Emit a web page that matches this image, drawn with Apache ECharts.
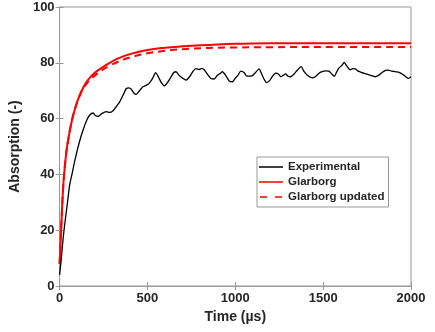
<!DOCTYPE html>
<html>
<head>
<meta charset="utf-8">
<script src="https://cdn.jsdelivr.net/npm/echarts@6/dist/echarts.min.js"></script>
<style>html,body{margin:0;padding:0;background:#fff;}#c{width:435px;height:332px;}</style>
</head>
<body>
<div id="c"></div>
<script>
const seriesNames = ['Experimental', 'Glarborg', 'Glarborg updated'];
const xTicks = [0, 500, 1000, 1500, 2000];
const yTicks = [0, 20, 40, 60, 80, 100];

const experimental = [[0,4],[10,10],[20,17],[30,22.5],[45,30],[58,36.5],[72,40.5],[87,45],[110,51],[134,56],[155,59.5],[172,61.3],[191,62],[205,61],[219,60.8],[240,61.8],[266,62.5],[285,62.2],[304,62.8],[325,64.5],[342,66],[362,68.5],[380,70.8],[395,71],[408,70.5],[425,69],[436,68.7],[455,70],[474,71.4],[495,72],[512,72.8],[530,74.5],[546,76.5],[558,75.5],[568,74.2],[583,72.5],[597,71.7],[615,73],[635,75],[650,76.5],[663,76.8],[680,75.5],[700,74.5],[720,73.8],[740,75],[760,77],[776,77.9],[795,77.6],[810,78],[823,77.5],[840,76],[861,74.4],[880,74.2],[899,75.6],[915,76.2],[927,76.8],[945,75.5],[965,73.5],[984,73.2],[1000,74.5],[1015,75.5],[1031,77],[1050,76.5],[1065,75.2],[1078,75.2],[1095,75.3],[1115,76.5],[1135,77.8],[1150,76],[1165,74],[1178,72.9],[1195,73.6],[1210,75],[1229,76.3],[1245,76],[1258,75],[1272,75.5],[1286,76],[1300,75.2],[1314,75],[1335,76],[1355,77.5],[1375,78.6],[1390,77],[1410,75.5],[1437,74.6],[1455,75],[1475,76.2],[1494,76.8],[1513,77.1],[1532,77],[1545,76.3],[1564,75.1],[1575,76.5],[1588,78],[1605,79],[1620,80.1],[1635,78.8],[1654,77.5],[1668,77.9],[1683,77.8],[1700,77],[1720,76.5],[1745,76],[1770,75.5],[1796,75],[1815,75.5],[1835,76.5],[1855,77.3],[1871,77.4],[1890,77],[1910,76.8],[1928,76.7],[1950,76],[1970,75],[1985,74.4],[2000,75]];

const glarborg = [[0,8],[5,15],[10,22],[20,35],[30,43],[40,48.7],[50,52.8],[60,56.3],[70,59.3],[80,61.8],[100,66],[120,69.2],[140,71.8],[160,73.7],[180,75.2],[200,76.4],[240,78.2],[280,79.8],[330,81.5],[400,83.1],[500,84.6],[600,85.4],[700,85.9],[800,86.3],[900,86.6],[1000,86.8],[1200,87],[1500,87],[2000,87]];

const glarborgUpdated = [[0,8],[5,15],[10,22],[20,35],[30,43],[40,48.7],[50,52.8],[60,56.3],[70,59.3],[80,61.8],[100,65.9],[120,69],[140,71.4],[160,73],[180,74.3],[200,75.4],[240,77.3],[280,78.8],[330,80.3],[400,81.9],[500,83.4],[600,84.3],[700,84.9],[800,85.2],[900,85.4],[1000,85.5],[1200,85.6],[1500,85.7],[2000,85.7]];

const FONT = '"Liberation Sans", Arial, Helvetica, sans-serif';
const AX = '#999999';
const TXT = '#262626';
const SOLID_ICON = 'path://M0,0h0.01v0.01h-0.01z M0,4.2h24v1.6h-24z M0,9.99h0.01v0.01h-0.01z';
const DASH_ICON = 'path://M0,0h0.01v0.01h-0.01z M1,4.2h7v1.6h-7z M16,4.2h7v1.6h-7z M23.99,9.99h0.01v0.01h-0.01z';

const chart = echarts.init(document.getElementById('c'), null, {renderer: 'canvas'});
const gridPos = {left: 58, top: 7, right: 24, bottom: 46};

chart.setOption({
  animation: false,
  backgroundColor: '#ffffff',
  grid: Object.assign({show: true, borderColor: AX, borderWidth: 1, backgroundColor: '#fff'}, gridPos),
  legend: {
    data: [
      {name: seriesNames[0], icon: SOLID_ICON, itemStyle: {color: '#000000'}},
      {name: seriesNames[1], icon: SOLID_ICON, itemStyle: {color: '#ff0000'}},
      {name: seriesNames[2], icon: DASH_ICON, itemStyle: {color: '#ff0000'}}
    ],
    left: 257, top: 157,
    orient: 'vertical',
    backgroundColor: '#ffffff',
    borderColor: AX, borderWidth: 1,
    padding: [3, 4, 3, 2],
    itemWidth: 24, itemHeight: 10, itemGap: 1,
    textStyle: {fontFamily: FONT, fontWeight: 'bold', fontSize: 11.5, color: TXT, lineHeight: 14}
  },
  xAxis: [{
    type: 'value', min: xTicks[0], max: xTicks[xTicks.length-1], interval: 500,
    name: 'Time (µs)', nameLocation: 'middle', nameGap: 21,
    nameTextStyle: {fontFamily: FONT, fontWeight: 'bold', fontSize: 14, color: TXT},
    axisLine: {show: true, lineStyle: {color: AX, width: 1}},
    axisTick: {show: true, inside: true, length: 4, lineStyle: {color: AX}},
    axisLabel: {fontFamily: FONT, fontWeight: 'bold', fontSize: 13, color: TXT, margin: 6,
                formatter: v => String(v)},
    splitLine: {show: false}
  }, {
    type: 'value', position: 'top', min: xTicks[0], max: xTicks[xTicks.length-1], interval: 500,
    axisLine: {show: true, lineStyle: {color: AX, width: 1}},
    axisTick: {show: true, inside: true, length: 4, lineStyle: {color: AX}},
    axisLabel: {show: false}, splitLine: {show: false}
  }],
  yAxis: [{
    type: 'value', min: yTicks[0], max: yTicks[yTicks.length-1], interval: 20,
    name: 'Absorption (-)', nameLocation: 'middle', nameGap: 30, nameRotate: 90,
    nameTextStyle: {fontFamily: FONT, fontWeight: 'bold', fontSize: 14, color: TXT},
    axisLine: {show: true, lineStyle: {color: AX, width: 1}},
    axisTick: {show: true, inside: true, length: 4, lineStyle: {color: AX}},
    axisLabel: {fontFamily: FONT, fontWeight: 'bold', fontSize: 13, color: TXT, margin: 5},
    splitLine: {show: false}
  }, {
    type: 'value', position: 'right', min: yTicks[0], max: yTicks[yTicks.length-1], interval: 20,
    axisLine: {show: true, lineStyle: {color: AX, width: 1}},
    axisTick: {show: true, inside: true, length: 4, lineStyle: {color: AX}},
    axisLabel: {show: false}, splitLine: {show: false}
  }],
  series: [
    {name: seriesNames[0], type: 'line', data: experimental, showSymbol: false, symbol: 'none', smooth: 0.2,
     lineStyle: {color: '#000000', width: 1.3}, itemStyle: {color: '#000000'}, z: 3},
    {name: seriesNames[1], type: 'line', data: glarborg, showSymbol: false, symbol: 'none', smooth: 0.4,
     lineStyle: {color: '#ff0000', width: 2}, itemStyle: {color: '#ff0000'}, z: 2},
    {name: seriesNames[2], type: 'line', data: glarborgUpdated, showSymbol: false, symbol: 'none', smooth: 0.4,
     lineStyle: {color: '#ff0000', width: 2, type: [7, 5]}, itemStyle: {color: '#ff0000'}, z: 2}
  ]
});
</script>
</body>
</html>
